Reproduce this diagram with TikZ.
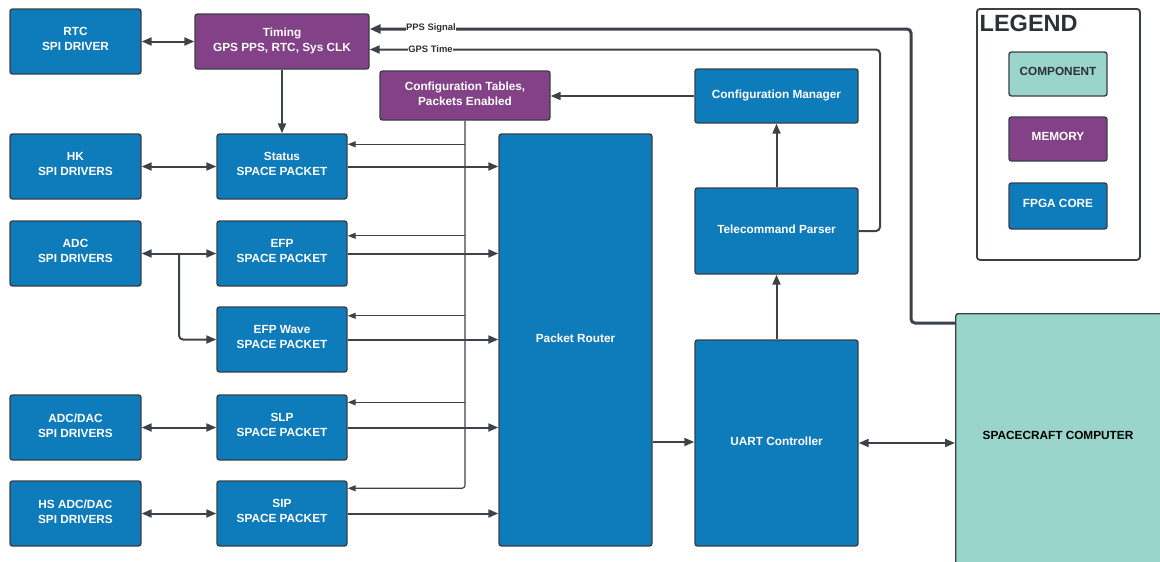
\documentclass[tikz,border=0pt]{standalone}
\usepackage{fontspec}
\setmainfont{Liberation Sans}
\usetikzlibrary{arrows.meta,calc}
\definecolor{fpgablue}{RGB}{14,123,187}
\definecolor{mempurple}{RGB}{131,65,135}
\definecolor{compteal}{RGB}{154,213,203}
\definecolor{edge}{RGB}{58,63,70}
\definecolor{wire}{RGB}{61,66,74}
\definecolor{inkgray}{RGB}{45,48,52}
\begin{document}
\begin{tikzpicture}[x=1pt,y=-1pt,
  block/.style={draw=edge, line width=1.4pt, rounded corners=2.5pt, align=center,
    inner sep=2pt, font=\bfseries\fontsize{11.8}{15}\selectfont,
    execute at end node={\rule[-4.5pt]{0pt}{4.5pt}}},
  fpga/.style={block, fill=fpgablue, text=white},
  memory/.style={block, fill=mempurple, text=white},
  component/.style={block, fill=compteal, text=inkgray},
  sz/.style 2 args={minimum width=#1, minimum height=#2},
  link/.style={draw=wire, line width=2pt, -{Triangle[length=10pt,width=8pt]}},
  duplex/.style={link, {Triangle[length=10pt,width=8pt]}-{Triangle[length=10pt,width=8pt]}},
  cfg/.style={draw=wire, line width=1.2pt, -{Triangle[length=8pt,width=6pt]}},
  ppsline/.style={draw=wire, line width=3pt, rounded corners=4pt, -{Triangle[length=11pt,width=9pt]}},
  gpsline/.style={draw=wire, line width=2pt, rounded corners=4pt, -{Triangle[length=10pt,width=8pt]}},
  tag/.style={fill=white, inner sep=0.6pt, text=inkgray, font=\bfseries\fontsize{9.4}{10}\selectfont},
]
\useasboundingbox (0,0) rectangle (1160,562);

% ---- driver column ----
\node[fpga, sz={131}{65}] (rtc)    at (75.5,41.5)  {RTC\\SPI DRIVER};
\node[fpga, sz={131}{65}] (hk)     at (75.5,166.5) {HK\\SPI DRIVERS};
\node[fpga, sz={131}{65}] (adc)    at (75.5,253.5) {ADC\\SPI DRIVERS};
\node[fpga, sz={131}{65}] (adcdac) at (75.5,427.5) {ADC/DAC\\SPI DRIVERS};
\node[fpga, sz={131}{65}] (hsadc)  at (75.5,513.5) {HS ADC/DAC\\SPI DRIVERS};

% ---- timing and packet builders ----
\node[memory, sz={174}{55}] (timing) at (282,41.5) {Timing\\GPS PPS, RTC, Sys CLK};
\node[fpga, sz={130}{65}] (status) at (282,166.5) {Status\\SPACE PACKET};
\node[fpga, sz={130}{65}] (efp)    at (282,253.5) {EFP\\SPACE PACKET};
\node[fpga, sz={130}{65}] (efpw)   at (282,339.5) {EFP Wave\\SPACE PACKET};
\node[fpga, sz={130}{65}] (slp)    at (282,427.5) {SLP\\SPACE PACKET};
\node[fpga, sz={130}{65}] (sip)    at (282,513.5) {SIP\\SPACE PACKET};

% ---- configuration, routing, command path ----
\node[memory, sz={170}{49}] (cfgtab) at (465,95.5) {Configuration Tables,\\Packets Enabled};
\node[fpga, sz={153}{412}] (router) at (575.5,340) {Packet Router};
\node[fpga, sz={163}{54}]  (cfgmgr) at (776.5,96)  {Configuration Manager};
\node[fpga, sz={163}{86}]  (tcp)    at (776.5,231) {Telecommand Parser};
\node[fpga, sz={163}{206}] (uart)   at (776.5,443) {UART Controller};

% ---- spacecraft side ----
\node[component, sz={208}{256}, anchor=north west] (sc) at (955,313) {};
\node[font=\bfseries\fontsize{11.8}{14.5}\selectfont, text=black] (sclabel) at (1058,435.5) {SPACECRAFT COMPUTER};

% ---- legend ----
\node[draw=edge, line width=1.8pt, rounded corners=3pt, sz={163}{251}, anchor=north west] (legend) at (976,8) {};
\node[anchor=base west, inner sep=0, text=inkgray, font=\bfseries\fontsize{23.5}{24}\selectfont] (legendtitle) at (979.5,31.5) {LEGEND};
\node[component, sz={98}{44}] (lgcomp) at (1058,74)  {COMPONENT};
\node[memory,    sz={98}{44}] (lgmem)  at (1058,139) {MEMORY};
\node[fpga,      sz={98}{46}] (lgfpga) at (1058,206) {FPGA CORE};

% ---- driver <-> packet links ----
\draw[duplex] (rtc) -- (timing);
\draw[duplex] (hk) -- (status);
\draw[duplex] (adc) -- (efp);
\draw[duplex] (adcdac) -- (slp);
\draw[duplex] (hsadc) -- (sip);
\coordinate (adcsplit) at (179,253.5);
\draw[link, rounded corners=4pt] (adcsplit) |- (efpw.west);

% ---- timing to status ----
\draw[link] (timing) -- (status);

% ---- packets into router ----
\foreach \p in {status,efp,efpw,slp,sip}
  \draw[link] (\p.east) -- (\p.east -| router.west);

% ---- configuration bus ----
\coordinate (tapstatus) at ($(status.north east)+(0,11)$);
\coordinate (tapefp)    at ($(efp.north east)+(0,15.5)$);
\coordinate (tapefpw)   at ($(efpw.north east)+(0,9.5)$);
\coordinate (tapslp)    at ($(slp.north east)+(0,8)$);
\coordinate (tapsip)    at ($(sip.north east)+(0,8)$);
\draw[cfg, rounded corners=3pt] (cfgtab.south) |- (tapsip);
\foreach \t in {tapstatus,tapefp,tapefpw,tapslp}
  \draw[cfg] (cfgtab.south |- \t) -- (\t);

% ---- command path ----
\draw[link] (cfgmgr.west) -- (cfgmgr.west -| cfgtab.east);
\draw[link] (tcp) -- (cfgmgr);
\draw[link] (uart) -- (tcp);
\draw[link] (router.east |- 0,442) -- (uart.west |- 0,442);
\draw[duplex] (uart.east) -- (uart.east -| sc.west);

% ---- PPS and GPS time back to timing ----
\coordinate (ppsa) at (911,323);
\coordinate (ppsb) at (911,29);
\draw[ppsline] (sc.west |- ppsa) -- (ppsa) -- (ppsb) -- (timing.east |- ppsb);
\node[tag] (ppstag) at (431,28) {PPS Signal};
\coordinate (gpsa) at (880,231);
\coordinate (gpsb) at (880,49.5);
\draw[gpsline] (tcp.east |- gpsa) -- (gpsa) -- (gpsb) -- (timing.east |- gpsb);
\node[tag] (gpstag) at (430.5,49.3) {GPS Time};
\end{tikzpicture}
\end{document}
